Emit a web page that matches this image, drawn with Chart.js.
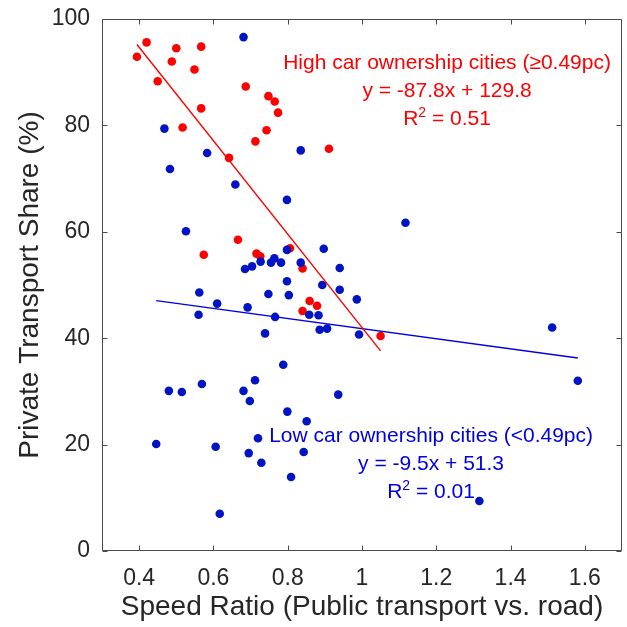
<!DOCTYPE html>
<html><head><meta charset="utf-8">
<script src="https://cdn.jsdelivr.net/npm/chart.js@4.4.1/dist/chart.umd.min.js"></script>
<style>html,body{margin:0;padding:0;background:#fff;}#wrap{width:627px;height:627px;}</style>
</head><body><div id="wrap"><canvas id="c" width="627" height="627"></canvas></div>
<script>
// ---- data ----
const highX = [0.394,0.420,0.500,0.567,0.488,0.549,0.450,0.687,0.748,0.765,0.774,0.567,0.517,0.743,0.713,0.911,0.642,0.666,0.574,0.716,0.726,0.806,0.840,0.859,0.879,0.840,1.050];
const highY = [92.9,95.6,94.5,94.8,92.0,90.5,88.3,87.3,85.5,84.5,82.4,83.2,79.6,79.1,77.0,75.6,73.9,58.5,55.7,55.9,55.4,56.9,53.1,47.0,46.1,45.1,40.4];
const lowX = [0.681,0.468,0.835,0.583,0.483,0.659,0.798,1.117,0.526,0.798,0.897,0.764,0.727,0.755,0.782,0.835,0.704,0.685,0.940,0.798,0.893,0.940,0.562,0.748,0.803,0.986,0.610,0.692,0.858,0.883,0.560,0.766,0.886,0.906,1.512,0.739,0.992,0.788,1.581,0.712,0.569,0.480,0.515,0.681,0.698,0.936,0.799,0.851,0.720,0.446,0.606,0.695,0.843,0.729,0.809,1.316,0.617];
const lowY = [96.6,79.4,75.3,74.8,71.8,68.9,66.0,61.7,60.1,56.6,56.8,55.0,54.4,54.2,54.2,54.2,53.5,53.0,53.2,50.7,50.0,49.1,48.6,48.3,48.1,47.3,46.5,45.8,44.4,44.3,44.4,44.0,41.6,41.8,42.0,40.9,40.7,35.0,32.0,32.1,31.4,30.1,29.9,30.1,28.2,29.4,26.2,24.4,21.2,20.1,19.6,18.4,18.6,16.6,13.9,9.4,7.0];
const highFit = [-87.8, 129.8, 0.51]; // slope, intercept, R2
const lowFit = [-9.5, 51.3, 0.01];
const highLabel = "High car ownership cities (\u22650.49pc)";
const lowLabel = "Low car ownership cities (<0.49pc)";
const xTicks = [0.4,0.6,0.8,1.0,1.2,1.4,1.6];
const xTickLabels = ['0.4','0.6','0.8','1','1.2','1.4','1.6'];
const yTicks = [0,20,40,60,80,100];
const xTitle = 'Speed Ratio (Public transport vs. road)';
const yTitle = 'Private Transport Share (%)';

// ---- styles ----
const FAM = "'Liberation Sans', Arial, Helvetica, sans-serif";
const RED = '#ff0000', BLUE_PT = 'rgb(0,20,195)', BLUE_TX = 'rgb(0,0,225)';
const AXIS = '#4a4a4a', TXT = '#262626';

const pts = (xs, ys) => xs.map((v, i) => ({x: v, y: ys[i]}));
const fitLine = (xs, f) => { const a = Math.min(...xs), b = Math.max(...xs); return [{x: a, y: f[0]*a + f[1]}, {x: b, y: f[0]*b + f[1]}]; };

function drawParts(ctx, cx, base, parts, color) {
  ctx.fillStyle = color; ctx.textAlign = 'left'; ctx.textBaseline = 'alphabetic';
  let w = 0;
  parts.forEach(p => { ctx.font = (p.sup ? '14px ' : '21px ') + FAM; p.w = ctx.measureText(p.t).width; w += p.w; });
  let xx = cx - w / 2;
  parts.forEach(p => { ctx.font = (p.sup ? '14px ' : '21px ') + FAM; ctx.fillText(p.t, xx, p.sup ? base - 8 : base); xx += p.w; });
}
function annot(ctx, x, y, anchor, label, fit, color) {
  const cx = x.getPixelForValue(anchor[0]);
  const b = y.getPixelForValue(anchor[1]);
  drawParts(ctx, cx, b, [{t: label}], color);
  drawParts(ctx, cx, b + 28, [{t: 'y = ' + fit[0].toFixed(1) + 'x + ' + fit[1].toFixed(1)}], color);
  drawParts(ctx, cx, b + 56, [{t: 'R'}, {t: '2', sup: true}, {t: ' = ' + fit[2].toFixed(2)}], color);
}

const boxPlugin = {
  id: 'box',
  afterDatasetsDraw(chart) {
    const {ctx, chartArea: a, scales: {x, y}} = chart;
    ctx.save();
    ctx.strokeStyle = AXIS; ctx.lineWidth = 1;
    const L = Math.round(a.left) + 0.5, R = Math.round(a.right) - 0.5, T = Math.round(a.top) + 0.5, B = Math.round(a.bottom) - 0.5;
    ctx.beginPath();
    ctx.rect(L, T, R - L, B - T);
    xTicks.forEach(v => { const p = Math.round(x.getPixelForValue(v)) + 0.5; ctx.moveTo(p, B); ctx.lineTo(p, B - 5); ctx.moveTo(p, T); ctx.lineTo(p, T + 5); });
    yTicks.forEach(v => { const p = Math.round(y.getPixelForValue(v)) + 0.5; ctx.moveTo(L, p); ctx.lineTo(L + 5, p); ctx.moveTo(R, p); ctx.lineTo(R - 5, p); });
    ctx.stroke();
    annot(ctx, x, y, [1.229, 90.6], highLabel, highFit, RED);
    annot(ctx, x, y, [1.186, 20.4], lowLabel, lowFit, BLUE_TX);
    ctx.restore();
  }
};

new Chart(document.getElementById('c'), {
  type: 'scatter',
  data: {
    datasets: [
      {label: 'high fit', data: fitLine(highX, highFit), showLine: true, borderColor: RED, borderWidth: 1.4, pointRadius: 0, order: 0},
      {label: 'low fit', data: fitLine(lowX, lowFit), showLine: true, borderColor: BLUE_TX, borderWidth: 1.4, pointRadius: 0, order: 0},
      {label: 'low', data: pts(lowX, lowY), backgroundColor: BLUE_PT, borderWidth: 0, pointRadius: 4.3, order: 1},
      {label: 'high', data: pts(highX, highY), backgroundColor: RED, borderWidth: 0, pointRadius: 4.3, order: 2}
    ]
  },
  options: {
    responsive: false, animation: false, devicePixelRatio: 1,
    layout: {padding: {top: 19, right: 5, left: 0, bottom: 0}},
    plugins: {legend: {display: false}, tooltip: {enabled: false}},
    scales: {
      x: {
        type: 'linear', min: 0.3, max: 1.7,
        afterBuildTicks: s => { s.ticks = xTicks.map(v => ({value: v})); },
        afterFit: s => { s.height = 76; s.paddingLeft = 0; s.paddingRight = 0; },
        grid: {display: false, drawTicks: false}, border: {display: false},
        ticks: {padding: 14, color: TXT, font: {family: FAM, size: 23}, callback: (v, i) => xTickLabels[i]},
        title: {display: true, text: xTitle, color: TXT, font: {family: FAM, size: 28}, padding: {top: 0, bottom: 3}}
      },
      y: {
        type: 'linear', min: 0, max: 100,
        afterBuildTicks: s => { s.ticks = yTicks.map(v => ({value: v})); },
        afterFit: s => { s.width = 102; s.paddingTop = 0; s.paddingBottom = 0; },
        grid: {display: false, drawTicks: false}, border: {display: false},
        ticks: {padding: 12, color: TXT, font: {family: FAM, size: 23}},
        title: {display: true, text: yTitle, color: TXT, font: {family: FAM, size: 28}, padding: {top: 13, bottom: 0}}
      }
    }
  },
  plugins: [boxPlugin]
});
</script></body></html>
